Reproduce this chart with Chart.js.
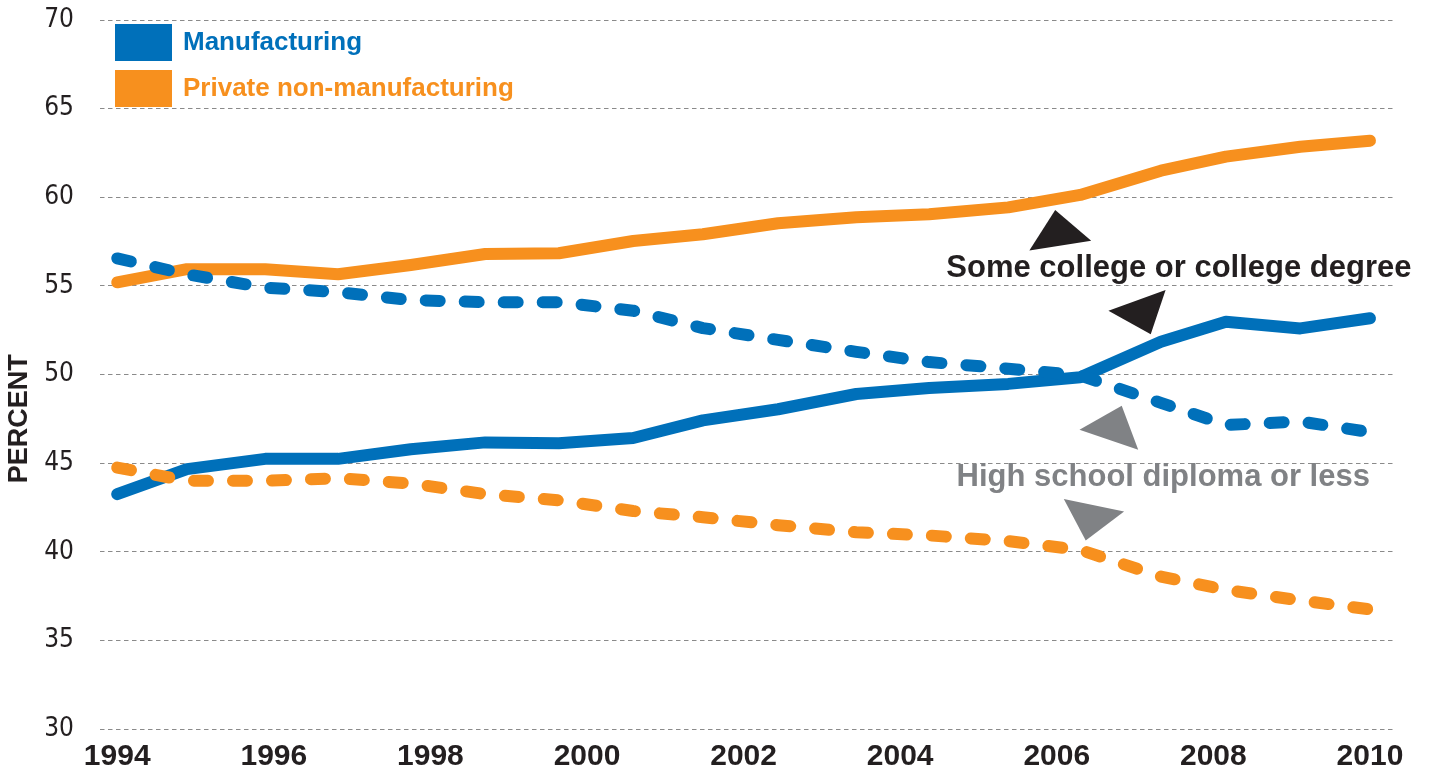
<!DOCTYPE html>
<html>
<head>
<meta charset="utf-8">
<script src="https://cdn.jsdelivr.net/npm/chart.js@4.4.0/dist/chart.umd.min.js"></script>
<style>
  html, body { margin: 0; padding: 0; background: #fff; }
  #wrap { width: 1434px; height: 776px; }
</style>
</head>
<body>
<div id="wrap"><canvas id="eduChart" width="1434" height="776"></canvas></div>
<script>
// 18 vertices run across the 1994-2010 axis, positions
const years = [1994.0, 1994.89, 1995.89, 1996.82, 1997.75, 1998.70, 1999.64, 2000.59, 2001.48,
  2002.44, 2003.44, 2004.37, 2005.38, 2006.30, 2007.33, 2008.16, 2009.11, 2010.0];

const mfgCollege = [43.25, 44.66, 45.24, 45.24, 45.78, 46.17, 46.12, 46.42, 47.41,
  48.04, 48.9, 49.24, 49.47, 49.85, 51.85, 52.98, 52.6, 53.17];
const mfgHighSchool = [56.55, 55.65, 54.9, 54.65, 54.2, 54.08, 54.08, 53.6, 52.62,
  51.95, 51.28, 50.7, 50.33, 49.95, 48.4, 47.15, 47.35, 46.75];
const privCollege = [55.2, 55.94, 55.94, 55.66, 56.18, 56.8, 56.84, 57.53, 57.91,
  58.53, 58.87, 59.04, 59.43, 60.13, 61.5, 62.29, 62.85, 63.19];
const privHighSchool = [44.75, 44.0, 44.0, 44.15, 43.85, 43.25, 42.9, 42.3, 41.95,
  41.5, 41.1, 40.92, 40.6, 40.1, 38.6, 37.85, 37.25, 36.75];

const xTicks = [1994, 1996, 1998, 2000, 2002, 2004, 2006, 2008, 2010];
const yTicks = [30, 35, 40, 45, 50, 55, 60, 65, 70];

const legendLabels = ["Manufacturing", "Private non-manufacturing"];

const BLUE = "#0070ba";
const ORANGE = "#f7901e";
const DARK = "#231f20";
const GREY = "#808285";

function points(values) {
  return values.map((v, i) => ({ x: years[i], y: v }));
}

function lineSet(label, values, color, dashed) {
  return {
    label: label,
    data: points(values),
    borderColor: color,
    backgroundColor: color,
    borderWidth: 12,
    borderDash: dashed ? [14, 25] : [],
    borderCapStyle: "round",
    borderJoinStyle: "round",
    pointRadius: 0,
    tension: 0,
    fill: false,
  };
}

// callouts, in data coordinates
const callouts = [
  { text: "Some college or college degree", x: 2007.56, y: 56.0, color: DARK },
  { text: "High school diploma or less", x: 2007.36, y: 44.2, color: GREY },
];
const arrows = [
  { color: DARK, pts: [[2005.98, 59.28], [2005.65, 56.99], [2006.44, 57.55]] },
  { color: DARK, pts: [[2007.39, 54.77], [2006.66, 53.59], [2007.2, 52.27]] },
  { color: GREY, pts: [[2006.83, 48.23], [2006.29, 46.88], [2007.04, 45.75]] },
  { color: GREY, pts: [[2006.09, 42.97], [2006.86, 42.27], [2006.37, 40.64]] },
];

const overlayPlugin = {
  id: "overlay",
  afterDatasetsDraw(chart) {
    const c = chart.ctx;
    const xs = chart.scales.x;
    const ys = chart.scales.y;
    const area = chart.chartArea;

    c.save();
    // legend
    const colors = [BLUE, ORANGE];
    legendLabels.forEach((lbl, i) => {
      const top = area.top + 4 + i * 46;
      c.fillStyle = colors[i];
      c.fillRect(area.left + 15, top, 57, 37);
      c.font = "bold 26px 'Liberation Sans', Arial, sans-serif";
      c.textBaseline = "middle";
      c.textAlign = "left";
      c.fillText(lbl, area.left + 83, top + 19);
    });

    // arrow heads
    for (let a of arrows) {
      c.fillStyle = a.color;
      c.beginPath();
      a.pts.forEach((p, i) => {
        const px = xs.getPixelForValue(p[0]);
        const py = ys.getPixelForValue(p[1]);
        if (i === 0) c.moveTo(px, py);
        else c.lineTo(px, py);
      });
      c.closePath();
      c.fill();
    }

    // callout text
    c.font = "bold 31px 'Liberation Sans', Arial, sans-serif";
    c.textAlign = "center";
    c.textBaseline = "middle";
    for (let t of callouts) {
      c.fillStyle = t.color;
      c.fillText(t.text, xs.getPixelForValue(t.x), ys.getPixelForValue(t.y));
    }

    // axis title
    c.translate(20, ys.getPixelForValue(47.5));
    c.rotate(-Math.PI / 2);
    c.fillStyle = DARK;
    c.font = "bold 27px 'Liberation Sans', Arial, sans-serif";
    c.fillText("PERCENT", 0, 0);
    c.restore();
  },
};

const ctx = document.getElementById("eduChart").getContext("2d");

// eslint-disable-next-line no-undef
const eduChart = new Chart(ctx, {
  type: "line",
  data: {
    datasets: [
      lineSet("Manufacturing, high school diploma or less", mfgHighSchool, BLUE, true),
      lineSet("Private non-manufacturing, high school diploma or less", privHighSchool, ORANGE, true),
      lineSet("Manufacturing, some college or college degree", mfgCollege, BLUE, false),
      lineSet("Private non-manufacturing, some college or college degree", privCollege, ORANGE, false),
    ],
  },
  options: {
    responsive: false,
    animation: false,
    layout: {
      padding: { top: 20, right: 39, bottom: 0, left: 0 },
    },
    plugins: {
      legend: { display: false },
      tooltip: { enabled: false },
    },
    scales: {
      x: {
        type: "linear",
        min: 1993.78,
        max: 2010.32,
        grid: { display: false, drawTicks: false },
        border: { display: false },
        afterBuildTicks: (scale) => {
          scale.ticks = xTicks.map((v) => ({ value: v }));
        },
        afterFit: (scale) => {
          scale.height = 47;
          scale.paddingTop = 0;
          scale.paddingBottom = 0;
        },
        ticks: {
          padding: 10,
          maxRotation: 0,
          autoSkip: false,
          color: DARK,
          font: { family: "'Liberation Sans', Arial, sans-serif", size: 30, weight: "bold" },
          callback: (v) => String(v),
        },
      },
      y: {
        min: 30,
        max: 70,
        grid: { color: "#8a8a8a", lineWidth: 1, drawTicks: false },
        border: { display: false, dash: [4.5, 3.5] },
        afterBuildTicks: (scale) => {
          scale.ticks = yTicks.map((v) => ({ value: v }));
        },
        afterFit: (scale) => {
          scale.width = 100;
          scale.paddingTop = 0;
          scale.paddingBottom = 0;
        },
        ticks: {
          padding: 26,
          color: DARK,
          font: { family: "'Liberation Sans Narrow', 'DejaVu Sans Condensed', sans-serif", size: 26 },
        },
      },
    },
  },
  plugins: [overlayPlugin],
});
</script>
</body>
</html>
